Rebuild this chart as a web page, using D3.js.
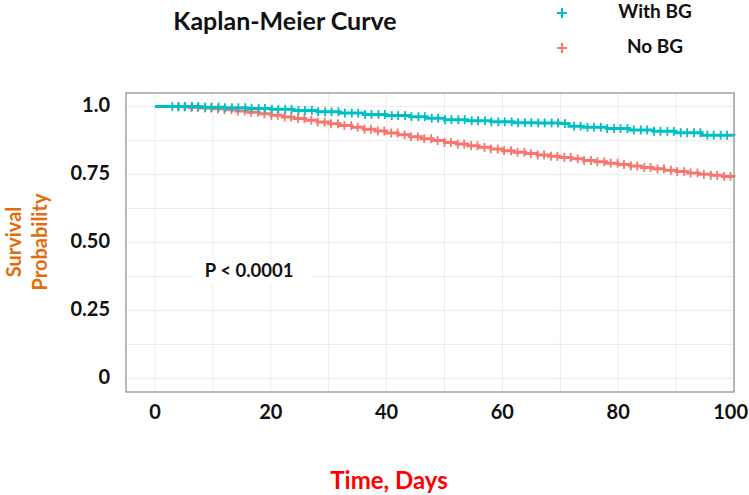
<!DOCTYPE html>
<html><head><meta charset="utf-8">
<script src="https://cdn.jsdelivr.net/npm/d3@7"></script>
<style>body{margin:0;background:#fff}svg{display:block}text{font-family:Lato,"Open Sans",sans-serif;font-weight:bold}</style>
</head><body><svg id="c" width="749" height="495"></svg>
<script>
const seriesNames = ["With BG", "No BG"];
const seriesColors = ["#00BFC4", "#F8766D"];
const withBGTimes = [0,4,8,12,16,20,24,28,32,36,40,44,47,50,54,58,62,66,70,71.5,74,78,82,86,90,94.5,100];
const withBGSurv  = [1,1,0.998,0.996,0.993,0.990,0.986,0.981,0.976,0.971,0.967,0.963,0.957,0.952,0.948,0.944,0.941,0.940,0.938,0.928,0.924,0.919,0.914,0.909,0.904,0.895,0.893];
const noBGTimes = [0,2,4,6,8,10,12,14,16,18,20,22,24,26,28,30,32,34,36,38,40,42,44,46,48,50,52,54,56,58,60,62,64,66,68,70,72,74,76,78,80,82,84,86,88,90,92,94,96,98,100];
const noBGSurv  = [1,1,0.999,0.997,0.995,0.992,0.988,0.984,0.979,0.974,0.968,0.962,0.956,0.950,0.943,0.937,0.930,0.924,0.917,0.910,0.903,0.896,0.889,0.882,0.875,0.868,0.862,0.856,0.850,0.844,0.838,0.832,0.827,0.822,0.817,0.813,0.808,0.802,0.797,0.792,0.787,0.781,0.776,0.771,0.766,0.761,0.756,0.751,0.747,0.743,0.740];
const withBGCensor = [3,4.1,5.2,6.4,7.5,8.7,9.8,11,12.1,13.3,14.4,15.6,16.7,17.9,19,20.2,21.3,22.5,23.6,24.8,25.9,27.1,28.2,29.4,30.5,31.7,32.8,34,35.1,36.3,37.4,38.6,39.7,40.9,42,43.2,44.3,45.5,46.6,47.8,48.9,50.1,51.2,52.4,53.5,54.7,55.8,57,58.1,59.3,60.4,61.6,62.7,63.9,65,66.2,67.3,68.5,69.6,70.8,72.4,73.5,74.7,75.8,77,78.1,79.3,80.4,81.6,82.7,83.9,85,86.2,87.3,88.5,89.6,90.8,91.9,93.1,94.2,95.4,96.5,97.7,98.8];
const noBGCensor = [4,5.1,6.3,7.4,8.6,9.7,10.9,12,13.2,14.3,15.5,16.6,17.8,18.9,20.1,21.2,22.4,23.5,24.7,25.8,27,28.1,29.3,30.4,31.6,32.7,33.9,35,36.2,37.3,38.5,39.6,40.8,41.9,43.1,44.2,45.4,46.5,47.7,48.8,50,51.1,52.3,53.4,54.6,55.7,56.9,58,59.2,60.3,61.5,62.6,63.8,64.9,66.1,67.2,68.4,69.5,70.7,71.8,73,74.1,75.3,76.4,77.6,78.7,79.9,81,82.2,83.3,84.5,85.6,86.8,87.9,89.1,90.2,91.4,92.5,93.7,94.8,96,97.1,98.3,99.4];
const xTicks = [0,20,40,60,80,100];
const xGrid = [0,10,20,30,40,50,60,70,80,90,100];
const yTicks = [0,0.25,0.5,0.75,1];
const yTickLabels = ["0","0.25","0.50","0.75","1.0"];
const yGrid = [0,0.125,0.25,0.375,0.5,0.625,0.75,0.875,1];

const svg = d3.select("#c");
const x = d3.scaleLinear().domain([-5,100]).range([126,734]);
const y = d3.scaleLinear().domain([-0.05,1.05]).range([392,93]);

// grid
svg.append("g").selectAll("line").data(xGrid).join("line")
  .attr("x1",d=>x(d)).attr("x2",d=>x(d)).attr("y1",y.range()[1]).attr("y2",y.range()[0])
  .attr("stroke","#ebebeb").attr("stroke-width",1);
svg.append("g").selectAll("line").data(yGrid).join("line")
  .attr("y1",d=>y(d)).attr("y2",d=>y(d)).attr("x1",x.range()[0]).attr("x2",x.range()[1])
  .attr("stroke","#ebebeb").attr("stroke-width",1);

// P value label with white backdrop
svg.append("rect").attr("x",x(6.5)).attr("y",y(0.44)).attr("width",x(27)-x(6.5)).attr("height",y(0.345)-y(0.44)).attr("fill","#fff");
svg.append("text").attr("x",x(8.6)).attr("y",y(0.39)).attr("dominant-baseline","middle")
  .attr("font-size",18.5).attr("fill","#111").text("P < 0.0001");

// curves
const series = [
  {t:withBGTimes, s:withBGSurv, c:withBGCensor, color:seriesColors[0]},
  {t:noBGTimes, s:noBGSurv, c:noBGCensor, color:seriesColors[1]}
];
const line = d3.line().x(d=>x(d[0])).y(d=>y(d[1])).curve(d3.curveStepAfter);
const bis = d3.bisector(d=>d).right;
[series[1], series[0]].forEach(sr=>{
  const pts = sr.t.map((t,i)=>[t, sr.s[i]]);
  svg.append("path").attr("d",line(pts)).attr("fill","none").attr("stroke",sr.color).attr("stroke-width",3);
  svg.append("g").selectAll("line").data(sr.c).join("line")
    .attr("x1",d=>x(d)).attr("x2",d=>x(d))
    .attr("y1",d=>y(sr.s[Math.max(0,bis(sr.t,d)-1)])-4.5)
    .attr("y2",d=>y(sr.s[Math.max(0,bis(sr.t,d)-1)])+4.5)
    .attr("stroke",sr.color).attr("stroke-width",1.8);
});

// border
svg.append("rect").attr("x",x.range()[0]).attr("y",y.range()[1])
  .attr("width",x.range()[1]-x.range()[0]).attr("height",y.range()[0]-y.range()[1])
  .attr("fill","none").attr("stroke","#8c8c8c").attr("stroke-width",1.2);

// y ticks
svg.append("g").selectAll("text").data(yTicks).join("text")
  .attr("x",110).attr("y",d=>y(d)).attr("text-anchor","end").attr("dominant-baseline","middle")
  .attr("font-size",20).attr("fill","#111").text((d,i)=>yTickLabels[i]);
// x ticks
svg.append("g").selectAll("text").data(xTicks).join("text")
  .attr("x",d=>d===100 ? 748 : x(d)).attr("y",414)
  .attr("text-anchor",d=>d===100 ? "end" : "middle").attr("dominant-baseline","middle")
  .attr("font-size",20).attr("fill","#111").text(d=>d);

// axis titles
svg.append("text").attr("x",389).attr("y",483).attr("text-anchor","middle").attr("dominant-baseline","middle")
  .attr("font-size",24).attr("fill","#FF0000").text("Time, Days");
svg.append("text").attr("transform","translate(16,242) rotate(-90)").attr("text-anchor","middle")
  .attr("dominant-baseline","middle").attr("font-size",20).attr("fill","#E36C0A").text("Survival");
svg.append("text").attr("transform","translate(42,242) rotate(-90)").attr("text-anchor","middle")
  .attr("dominant-baseline","middle").attr("font-size",20).attr("fill","#E36C0A").text("Probability");

// title
svg.append("text").attr("x",285).attr("y",24).attr("text-anchor","middle").attr("dominant-baseline","middle")
  .attr("font-size",25).attr("fill","#111").text("Kaplan-Meier Curve");

// legend
const legY = [13, 48];
seriesNames.forEach((n,i)=>{
  const g = svg.append("g").attr("transform",`translate(562,${legY[i]})`);
  g.append("line").attr("x1",-5).attr("x2",5).attr("stroke",seriesColors[i]).attr("stroke-width",2);
  g.append("line").attr("y1",-5).attr("y2",5).attr("stroke",seriesColors[i]).attr("stroke-width",2);
  svg.append("text").attr("x",655).attr("y",legY[i]).attr("text-anchor","middle").attr("dominant-baseline","middle")
    .attr("font-size",19).attr("fill","#111").text(n);
});
</script></body></html>
